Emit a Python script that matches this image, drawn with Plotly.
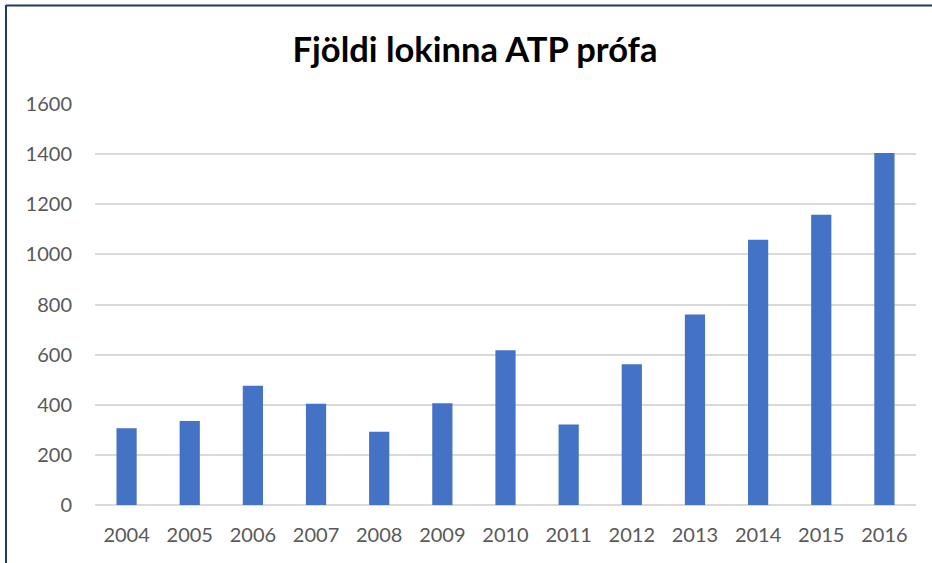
import plotly.graph_objects as go

years = ["2004", "2005", "2006", "2007", "2008", "2009", "2010",
         "2011", "2012", "2013", "2014", "2015", "2016"]
tests = [306, 335, 476, 404, 292, 406, 617, 321, 562, 760, 1058, 1158, 1404]

y_ticks = [0, 200, 400, 600, 800, 1000, 1200, 1400, 1600]

BAR = "#4472C4"
GRID = "#D9D9D9"
TXT = "#595959"
BORDER = "#1F3864"

fig = go.Figure(go.Bar(
    x=years, y=tests,
    marker=dict(color=BAR, line=dict(width=0)),
    width=0.32,
))

fig.update_layout(
    width=932, height=563,
    margin=dict(l=95, r=16, t=104, b=58),
    paper_bgcolor="white", plot_bgcolor="white",
    title=dict(text="<b>Fjöldi lokinna ATP prófa</b>",
               x=475 / 932, xanchor="center", y=1 - 50 / 563, yanchor="middle",
               font=dict(family="Lato", size=34.5, color="black")),
    showlegend=False,
    font=dict(family="Lato", size=20, color=TXT),
    xaxis=dict(type="category", showgrid=False, showline=False, zeroline=False,
               ticks="", ticklabelstandoff=16,
               tickfont=dict(family="Lato", size=20, color=TXT)),
    yaxis=dict(range=[0, 1600], tickvals=y_ticks, showgrid=True,
               gridcolor=GRID, gridwidth=1.5, zeroline=True,
               zerolinecolor=GRID, zerolinewidth=1.5, showline=False,
               ticks="", ticklabelstandoff=22,
               tickfont=dict(family="Lato", size=20, color=TXT)),
    shapes=[
        dict(type="line", xref="paper", yref="paper",
             x0=(6 - 95) / 821, x1=(940 - 95) / 821,
             y0=(505 - 5.5) / 401, y1=(505 - 5.5) / 401,
             line=dict(color=BORDER, width=2)),
        dict(type="line", xref="paper", yref="paper",
             x0=(6 - 95) / 821, x1=(6 - 95) / 821,
             y0=(505 - 5) / 401, y1=(505 - 570) / 401,
             line=dict(color=BORDER, width=2)),
    ],
)

fig.write_html("out.html", config={"displayModeBar": False},
               post_script="document.body.style.margin='0';")
